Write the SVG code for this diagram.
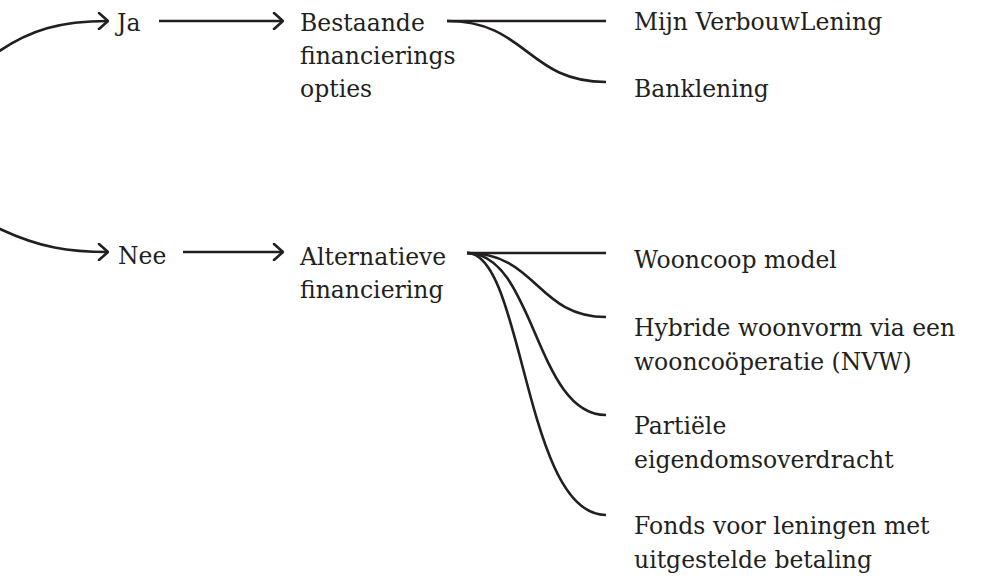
<svg xmlns="http://www.w3.org/2000/svg" width="985" height="580" viewBox="0 0 985 580">
<defs>
<style>
text{font-family:"DejaVu Serif","Liberation Serif",serif;font-size:23.5px;fill:#231f20}
.ln{fill:none;stroke:#231f20;stroke-width:2.6}
</style>
<marker id="arr" viewBox="0 0 12 18" refX="11" refY="9" markerWidth="12" markerHeight="18" markerUnits="userSpaceOnUse" orient="auto">
<path d="M2,1 L11,9 L2,17" fill="none" stroke="#231f20" stroke-width="2.6" stroke-linecap="round" stroke-linejoin="round"/>
</marker>
</defs>
<rect width="985" height="580" fill="#ffffff"/>
<g id="connectors">
<path class="ln" d="M-2,52 C30,30 60,21 108,21" marker-end="url(#arr)"/>
<path class="ln" d="M-2,228 C40,248 70,252 108,252" marker-end="url(#arr)"/>
<path class="ln" d="M159,21 L283,21" marker-end="url(#arr)"/>
<path class="ln" d="M183,252 L283,252" marker-end="url(#arr)"/>
<path class="ln" d="M447,21 L606,21"/>
<path class="ln" d="M447,21 C527,21 527,82 606,82"/>
<path class="ln" d="M467,253 L606,253"/>
<path class="ln" d="M467,253 C537,253 537,317 606,317"/>
<path class="ln" d="M467,253 C535,253 535,415 606,415"/>
<path class="ln" d="M467,253 C524,253 524,515 606,515"/>
</g>
<g id="node-ja"><text x="117" y="31">Ja</text></g>
<g id="node-nee"><text x="118" y="264">Nee</text></g>
<g id="node-bestaande"><text x="300" y="31">Bestaande</text><text x="300" y="64">financierings</text><text x="300" y="97">opties</text></g>
<g id="node-alternatieve"><text x="300" y="265">Alternatieve</text><text x="300" y="298">financiering</text></g>
<g id="node-mijn"><text x="634" y="30">Mijn VerbouwLening</text></g>
<g id="node-bank"><text x="634" y="97">Banklening</text></g>
<g id="node-wooncoop"><text x="634" y="268">Wooncoop model</text></g>
<g id="node-hybride"><text x="634" y="336">Hybride woonvorm via een</text><text x="634" y="370">wooncoöperatie (NVW)</text></g>
<g id="node-partiele"><text x="634" y="434">Partiële</text><text x="634" y="468">eigendomsoverdracht</text></g>
<g id="node-fonds"><text x="634" y="534">Fonds voor leningen met</text><text x="634" y="568">uitgestelde betaling</text></g>
</svg>
